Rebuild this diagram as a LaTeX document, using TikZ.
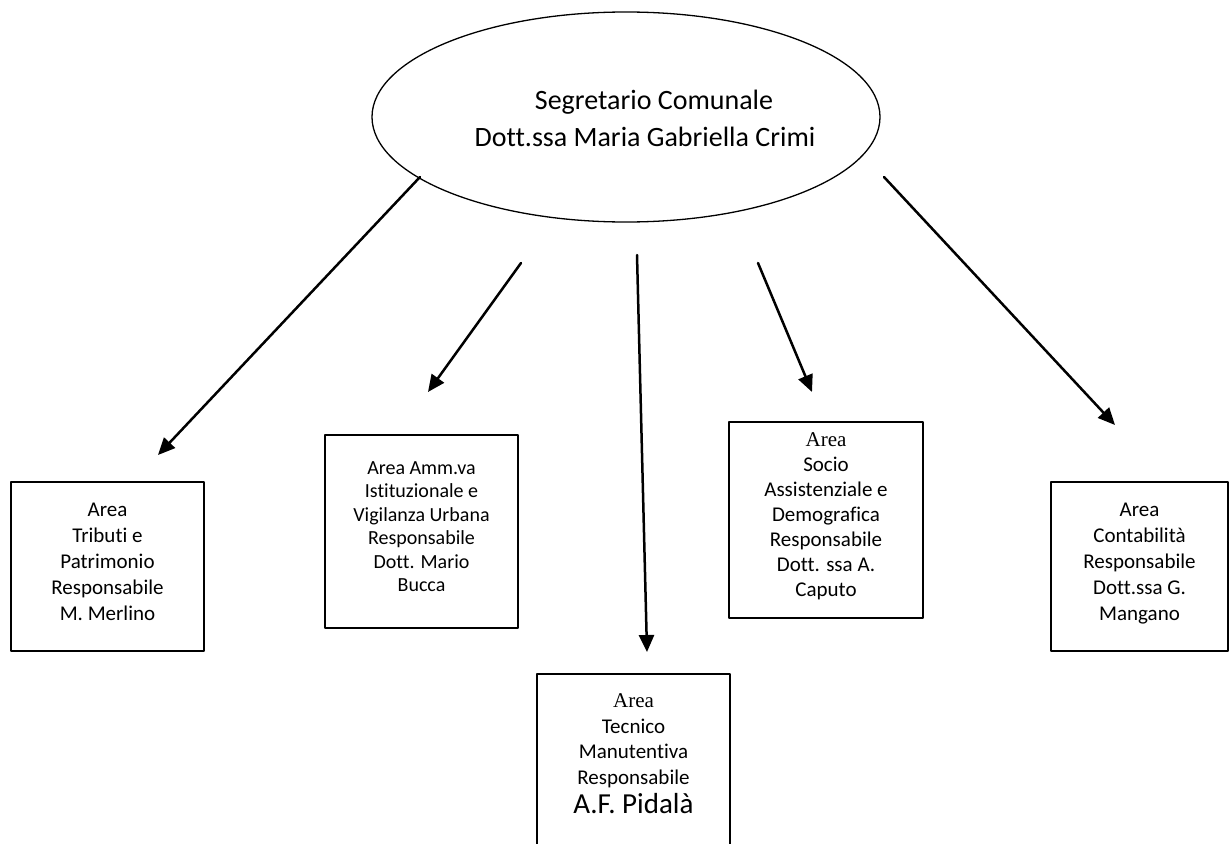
\documentclass[tikz,border=0pt]{standalone}
\usepackage{fontspec}
\setmainfont[Ligatures=NoCommon]{Carlito}
\newfontfamily\serifarea{Liberation Serif}
\usetikzlibrary{arrows.meta,shapes.geometric}

\begin{document}
\begin{tikzpicture}[line cap=round,line join=round,>={Triangle[length=17pt,width=15pt]},x=1pt,y=-1pt,
		areabox/.style={draw,line width=1.3pt,rectangle,align=center,inner sep=0pt,minimum width=193pt,font=\fontsize{21}{26}\selectfont,execute at end node={\rule[-10pt]{0pt}{0pt}}},
		segretario/.style={draw,line width=1.3pt,ellipse,inner sep=0pt,minimum width=508pt,minimum height=210pt},
		freccia/.style={->,line width=2.5pt}]
			\useasboundingbox (0,0) rectangle (1230,843);
			\clip (0,0) rectangle (1230,843);
			% segretario comunale
			\node[segretario] (sc) at (626,117) {};
			\node[align=center,inner sep=0pt,font=\fontsize{28}{37}\selectfont] (sctesto) at (645,118) {\hspace*{18pt}Segretario Comunale\\Dott.ssa Maria Gabriella Crimi};
			% aree
			\node[areabox,minimum height=169pt] (tributi) at (107.5,566.5) {Area\\Tributi e\\Patrimonio\\Responsabile\\M. Merlino};
			\node[areabox,minimum height=193pt,font=\fontsize{20}{23.5}\selectfont] (amm) at (421.5,531.5) {Area Amm.va\\Istituzionale e\\Vigilanza Urbana\\Responsabile\\Dott. Mario\\Bucca};
			\node[areabox,minimum width=194pt,minimum height=196pt,font=\fontsize{21}{25}\selectfont] (socio) at (826,520) {{\serifarea Area}\\Socio\\Assistenziale e\\Demografica\\Responsabile\\Dott. ssa A.\\Caputo};
			\node[areabox,minimum width=177pt,minimum height=169pt] (conta) at (1139.5,566.5) {Area\\Contabilit\`a\\Responsabile\\Dott.ssa G.\\Mangano};
			\node[areabox,minimum height=176pt,font=\fontsize{21}{25.5}\selectfont] (tecnico) at (633.5,762) {{\serifarea Area}\\Tecnico\\Manutentiva\\Responsabile\\[4pt]{\fontsize{29}{32}\selectfont A.F. Pidal\`a}\rule[-16pt]{0pt}{0pt}};
			% estremi delle frecce
			\coordinate (p1) at (420,177);
			\coordinate (q1) at (158,455);
			\coordinate (p2) at (521,263);
			\coordinate (q2) at (428,392);
			\coordinate (p3) at (637,255);
			\coordinate (q3) at (647,652);
			\coordinate (p4) at (758,263);
			\coordinate (q4) at (812,392);
			\coordinate (p5) at (884,177);
			\coordinate (q5) at (1115,425);
			\draw[freccia] (p1) -- (q1);
			\draw[freccia] (p2) -- (q2);
			\draw[freccia] (p3) -- (q3);
			\draw[freccia] (p4) -- (q4);
			\draw[freccia] (p5) -- (q5);
\end{tikzpicture}
\end{document}
